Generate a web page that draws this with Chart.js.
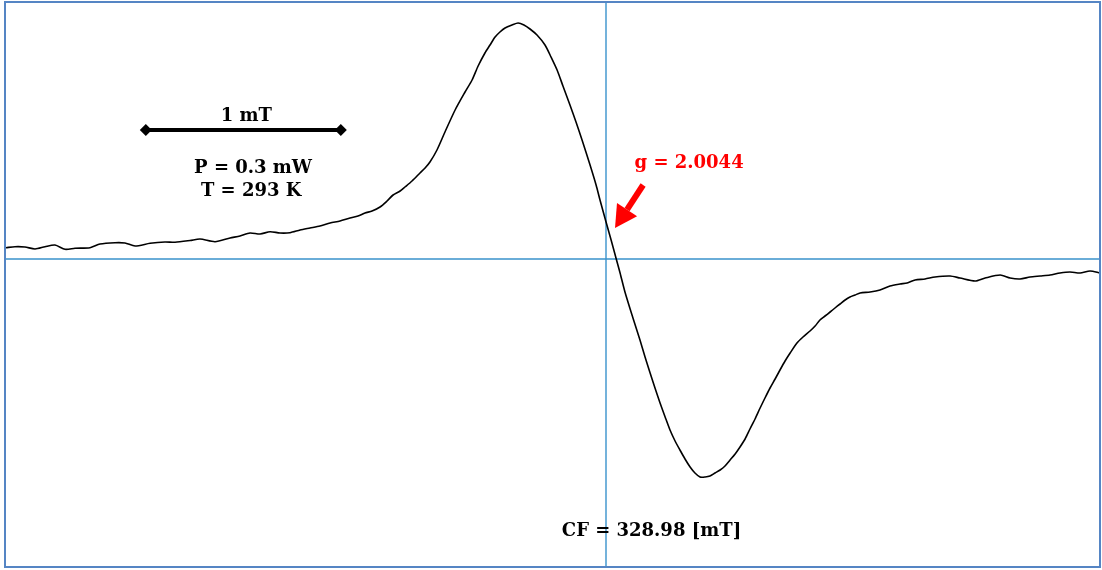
<!DOCTYPE html>
<html>
<head>
<meta charset="utf-8">
<title>EPR spectrum</title>
<script src="https://cdn.jsdelivr.net/npm/chart.js@4/dist/chart.umd.min.js"></script>
<style>
  html, body { margin: 0; padding: 0; background: #ffffff; }
  #wrap { width: 1102px; height: 570px; }
</style>
</head>
<body>
<div id="wrap"><canvas id="epr" width="1102" height="570"></canvas></div>
<script>
// Magnetic field (mT) of each recorded point of the first-derivative EPR signal
const fieldMT = [
  325.903, 325.949, 326.000, 326.052, 326.103, 326.154, 326.206, 326.257, 326.334, 326.385,
  326.462, 326.513, 326.565, 326.642, 326.718, 326.770, 326.847, 326.898, 326.975, 327.052,
  327.103, 327.154, 327.206, 327.257, 327.308, 327.359, 327.411, 327.462, 327.513, 327.565,
  327.616, 327.667, 327.708, 327.744, 327.780, 327.821, 327.857, 327.888, 327.924, 327.949,
  327.985, 328.026, 328.052, 328.077, 328.113, 328.154, 328.206, 328.257, 328.293, 328.324,
  328.359, 328.385, 328.411, 328.436, 328.462, 328.498, 328.529, 328.559, 328.590, 328.626,
  328.667, 328.698, 328.729, 328.759, 328.795, 328.826, 328.857, 328.898, 328.929,
  328.949, 328.980, 329.006, 329.031, 329.052, 329.077, 329.118, 329.154, 329.180, 329.206,
  329.231, 329.257, 329.283, 329.308, 329.334, 329.359, 329.385, 329.411, 329.436, 329.462,
  329.488, 329.513, 329.539, 329.565, 329.590, 329.616, 329.642, 329.667, 329.693, 329.718,
  329.744, 329.770, 329.795, 329.821, 329.847, 329.872, 329.898, 329.924, 329.959, 329.990,
  330.026, 330.052, 330.077, 330.103, 330.129, 330.154, 330.180, 330.206, 330.231, 330.257,
  330.283, 330.334, 330.385, 330.436, 330.488, 330.524, 330.565, 330.616, 330.667, 330.744,
  330.795, 330.872, 330.924, 331.001, 331.052, 331.103, 331.154, 331.206, 331.257, 331.308,
  331.359, 331.411, 331.462, 331.513
];

// dχ''/dB signal intensity (arbitrary units)
const intensity = [
   11.3,  12.3,  12.0,  10.0,  12.3,  14.0,   9.7,  10.7,  11.3,  15.0,
   16.3,  16.0,  13.0,  15.7,  17.0,  16.7,  18.5,  20.0,  17.3,  21.0,
   23.0,  26.0,  25.0,  27.3,  26.0,  26.3,  29.0,  31.0,  33.0,  36.0,
   38.0,  41.0,  43.0,  46.0,  48.0,  52.0,  58.0,  64.0,  68.0,  72.0,
   78.0,  86.0,  91.0,  97.0, 109.0, 127.0, 149.0, 167.0, 179.0, 193.0,
  206.0, 214.0, 222.0, 227.0, 231.0, 234.0, 236.0, 234.0, 230.0, 224.0,
  214.0, 202.0, 189.0, 173.0, 154.0, 137.0, 119.0,  94.0,  74.0,
   59.0,  37.0,  19.0,   1.0, -14.0, -33.0, -59.0, -81.0, -98.0, -114.0,
 -129.0, -144.0, -158.0, -171.0, -182.0, -191.0, -200.0, -208.0, -214.0, -218.0,
 -218.0, -217.0, -214.0, -211.0, -207.0, -201.0, -195.0, -188.0, -180.0, -170.0,
 -160.0, -149.0, -139.0, -129.0, -120.0, -111.0, -102.0, -94.0, -84.0, -78.0,
  -72.0, -67.0, -61.0, -57.0, -53.0, -49.0, -45.0, -41.0, -38.0, -36.0,
  -34.0, -33.0, -31.0, -27.0, -25.0, -24.0, -21.0, -20.0, -18.0, -17.0,
  -19.0, -22.0, -19.0, -16.0, -19.0, -20.0, -18.0, -17.0, -16.0, -14.0,
  -13.0, -14.0, -12.0, -14.0
];

// Sweep window and display range
const fieldRange = [325.903, 331.513];
const intensityRange = [-308, 257];

// Centre field marker and g-value annotation
const centerField = 328.98;
const gField = 329.026;
const gIntensity = 31;
const gValueText = 'g = 2.0044';
const cfText = 'CF = 328.98 [mT]';

// 1 mT scale bar
const scaleBar = [326.62, 327.62];
const scaleBarLevel = 129;
const scaleBarText = '1 mT';
const conditionText = ['P = 0.3 mW', 'T = 293 K'];

const points = fieldMT.map((b, i) => ({ x: b, y: intensity[i] }));

const FONT = 'bold 18px "DejaVu Serif", serif';

const overlay = {
  id: 'eprOverlay',
  beforeDatasetsDraw(chart) {
    const { ctx, chartArea: a, scales: { x, y } } = chart;
    ctx.save();
    // crosshair through centre field and zero signal
    ctx.strokeStyle = '#3a93cc';
    ctx.lineWidth = 1.4;
    const cx = Math.round(x.getPixelForValue(centerField));
    const cy = Math.round(y.getPixelForValue(0));
    ctx.beginPath();
    ctx.moveTo(cx, a.top); ctx.lineTo(cx, a.bottom);
    ctx.moveTo(a.left, cy); ctx.lineTo(a.right, cy);
    ctx.stroke();
    ctx.restore();
  },
  afterDatasetsDraw(chart) {
    const { ctx, chartArea: a, scales: { x, y } } = chart;
    const px = v => x.getPixelForValue(v);
    const py = v => y.getPixelForValue(v);
    ctx.save();

    // frame
    ctx.strokeStyle = '#5585c4';
    ctx.lineWidth = 2;
    ctx.strokeRect(a.left - 1, a.top, a.right - a.left + 1, a.bottom - a.top);

    // scale bar with diamond ends
    const x0 = px(scaleBar[0]), x1 = px(scaleBar[1]), yb = py(scaleBarLevel);
    ctx.strokeStyle = '#000';
    ctx.fillStyle = '#000';
    ctx.lineWidth = 4;
    ctx.beginPath(); ctx.moveTo(x0, yb); ctx.lineTo(x1, yb); ctx.stroke();
    [x0, x1].forEach(xx => {
      ctx.beginPath();
      ctx.moveTo(xx - 6, yb); ctx.lineTo(xx, yb - 6);
      ctx.lineTo(xx + 6, yb); ctx.lineTo(xx, yb + 6);
      ctx.closePath(); ctx.fill();
    });

    ctx.font = FONT;
    ctx.textAlign = 'center';
    ctx.textBaseline = 'alphabetic';
    ctx.fillText(scaleBarText, (x0 + x1) / 2 + 3, py(138));
    ctx.fillText(conditionText[0], px(327.17), py(86));
    ctx.fillText(conditionText[1], px(327.16), py(63));
    ctx.fillText(cfText, px(329.213), py(-277));

    // g-value label and arrow pointing at the zero crossing
    ctx.fillStyle = '#ff0000';
    ctx.fillText(gValueText, px(329.406), py(91));
    const tx = px(gField), ty = py(gIntensity);
    const sx = px(329.170), sy = py(74);
    const ang = Math.atan2(ty - sy, tx - sx);
    const headLen = 22, headHalf = 12;
    const bx = tx - headLen * Math.cos(ang), by = ty - headLen * Math.sin(ang);
    ctx.strokeStyle = '#ff0000';
    ctx.lineWidth = 6;
    ctx.beginPath(); ctx.moveTo(sx, sy); ctx.lineTo(bx, by); ctx.stroke();
    ctx.beginPath();
    ctx.moveTo(tx, ty);
    ctx.lineTo(bx + headHalf * Math.sin(ang), by - headHalf * Math.cos(ang));
    ctx.lineTo(bx - headHalf * Math.sin(ang), by + headHalf * Math.cos(ang));
    ctx.closePath(); ctx.fill();

    ctx.restore();
  }
};

new Chart(document.getElementById('epr'), {
  type: 'line',
  data: {
    datasets: [{
      data: points,
      borderColor: '#000000',
      borderWidth: 1.6,
      pointRadius: 0,
      tension: 0.25,
      fill: false
    }]
  },
  options: {
    responsive: false,
    animation: false,
    events: [],
    layout: { padding: { left: 6, top: 2, right: 2, bottom: 3 } },
    plugins: { legend: { display: false }, tooltip: { enabled: false } },
    scales: {
      x: { type: 'linear', min: fieldRange[0], max: fieldRange[1], display: false },
      y: { type: 'linear', min: intensityRange[0], max: intensityRange[1], display: false }
    }
  },
  plugins: [overlay]
});
</script>
</body>
</html>
